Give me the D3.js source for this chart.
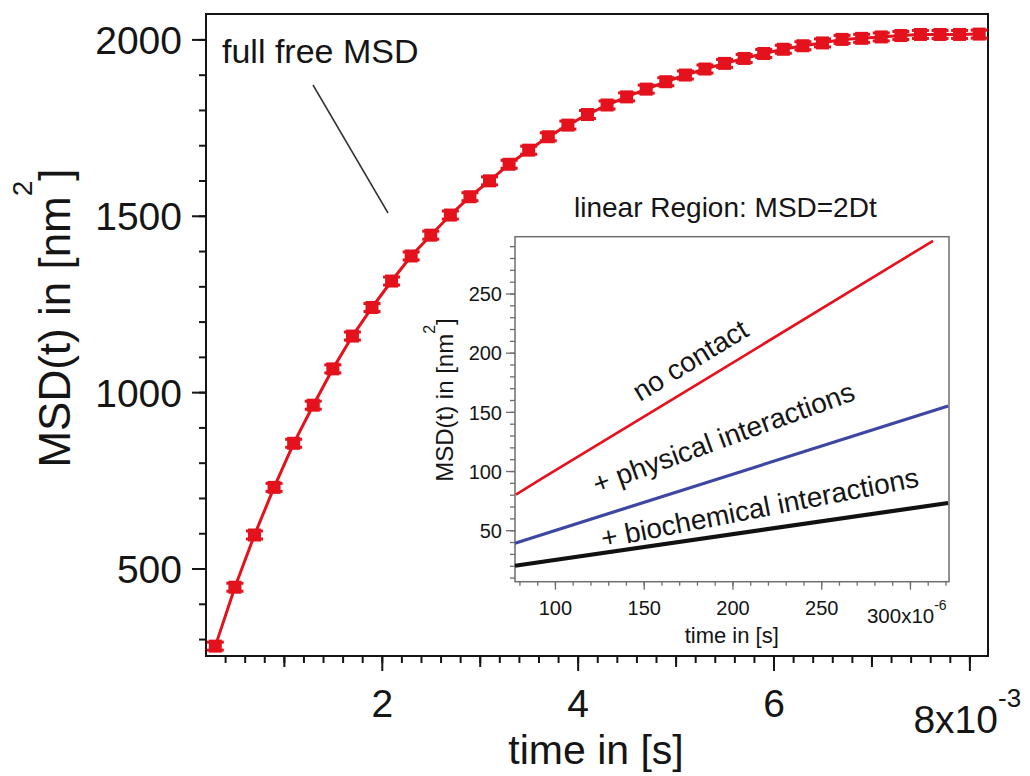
<!DOCTYPE html>
<html>
<head>
<meta charset="utf-8">
<script src="https://cdn.jsdelivr.net/npm/d3@7"></script>
<style>
  body { margin: 0; background: #fff; }
  svg { display: block; }
  text { font-family: "Liberation Sans", Arial, Helvetica, sans-serif; fill: #151515; }
</style>
</head>
<body>
<svg id="chart" width="1030" height="776"></svg>
<script>
// Full free MSD curve: time in ms (x10^-3 s), MSD in nm^2
const freeTime = [0.3, 0.5, 0.7, 0.9, 1.1, 1.3, 1.5, 1.7, 1.9, 2.1,
                  2.3, 2.5, 2.7, 2.9, 3.1, 3.3, 3.5, 3.7, 3.9, 4.1,
                  4.3, 4.5, 4.7, 4.9, 5.1, 5.3, 5.5, 5.7, 5.9, 6.1,
                  6.3, 6.5, 6.7, 6.9, 7.1, 7.3, 7.5, 7.7, 7.9, 8.1];
const freeMSD = [280, 447, 595, 730, 855, 963, 1066, 1159, 1240, 1315,
                 1386, 1445, 1502, 1554, 1599, 1646, 1686, 1724, 1757, 1787,
                 1814, 1837, 1859, 1880, 1899, 1916, 1932, 1946, 1960, 1972,
                 1982, 1990, 2000, 2003, 2007, 2011, 2014, 2014, 2014, 2015];
const mainYTicks = [500, 1000, 1500, 2000];
const mainXTicks = [2, 4, 6];

// Linear region: time in µs (x10^-6 s), MSD in nm^2
const noContactTime = [78, 93, 182, 313];
const noContactMSD  = [80, 94, 175, 294.5];
const physicalTime  = [77.5, 321.5];
const physicalMSD   = [39, 155];
const biochemTime   = [77.5, 321.5];
const biochemMSD    = [20, 73];
const insetYTicks = [50, 100, 150, 200, 250];
const insetXTicks = [100, 150, 200, 250];

const RED = "#e3121d";
const svg = d3.select("#chart");

// ---------- main plot ----------
const x = d3.scaleLinear().domain([0.205, 8.19]).range([206, 988]);
const y = d3.scaleLinear().domain([252, 2072]).range([656, 14]);

function styleAxis(g, width) {
  g.select(".domain").remove();
  g.selectAll(".tick line").attr("stroke", "#151515").attr("stroke-width", width);
}

// y axis: minor every 100, labelled majors every 500
svg.append("g").attr("transform", "translate(206,0)")
  .call(d3.axisLeft(y).tickValues(d3.range(3, 21).map(i => i * 100)).tickSize(7).tickFormat(""))
  .call(g => styleAxis(g, 2));
svg.append("g").attr("transform", "translate(206,0)")
  .call(d3.axisLeft(y).tickValues(mainYTicks).tickSize(14).tickPadding(10).tickFormat(d3.format("d")))
  .call(g => styleAxis(g, 2))
  .call(g => g.selectAll("text").attr("font-size", 39).attr("dy", "0.36em").style("fill", "#151515"));

// x axis: minor every 0.2, medium at odd, major at even
svg.append("g").attr("transform", "translate(0,656)")
  .call(d3.axisBottom(x).tickValues(d3.range(2, 41).map(i => i / 5)).tickSize(7).tickFormat(""))
  .call(g => styleAxis(g, 2));
svg.append("g").attr("transform", "translate(0,656)")
  .call(d3.axisBottom(x).tickValues([1, 3, 5, 7]).tickSize(11).tickFormat(""))
  .call(g => styleAxis(g, 2));
svg.append("g").attr("transform", "translate(0,656)")
  .call(d3.axisBottom(x).tickValues(mainXTicks.concat([8])).tickSize(15).tickPadding(18)
        .tickFormat(d => d === 8 ? "" : d))
  .call(g => styleAxis(g, 2))
  .call(g => g.selectAll("text").attr("font-size", 39).style("fill", "#151515"));

// exponent label at the last tick
const expMain = svg.append("text").attr("x", x(8) - 56).attr("y", 733).attr("font-size", 39);
expMain.append("tspan").text("8x10");
expMain.append("tspan").attr("font-size", 26).attr("dy", -26).text("-3");

// frame
svg.append("rect").attr("x", 206).attr("y", 14).attr("width", 782).attr("height", 642)
  .attr("fill", "none").attr("stroke", "#151515").attr("stroke-width", 2);

// axis titles
const yTitle = svg.append("text").attr("transform", "translate(70,318) rotate(-90)")
  .attr("text-anchor", "middle").attr("font-size", 44);
yTitle.append("tspan").text("MSD(t) in [nm");
yTitle.append("tspan").attr("font-size", 28).attr("dy", -38).text("2");
yTitle.append("tspan").attr("dy", 38).text("]");

svg.append("text").attr("x", 596).attr("y", 764).attr("text-anchor", "middle")
  .attr("font-size", 41).text("time in [s]");

// annotation
svg.append("text").attr("x", 222).attr("y", 63).attr("font-size", 34).text("full free MSD");
svg.append("line").attr("x1", 313).attr("y1", 85).attr("x2", 388).attr("y2", 213)
  .attr("stroke", "#333").attr("stroke-width", 1.5);

// curve + markers
const freeData = freeTime.map((t, i) => ({ t, v: freeMSD[i] }));
svg.append("path").datum(freeData)
  .attr("fill", "none").attr("stroke", RED).attr("stroke-width", 3)
  .attr("d", d3.line().x(d => x(d.t)).y(d => y(d.v)));
const mk = svg.append("g").selectAll("g").data(freeData).join("g")
  .attr("transform", d => `translate(${x(d.t)},${y(d.v)})`);
mk.append("rect").attr("x", -6.5).attr("y", -6.5).attr("width", 13).attr("height", 13).attr("fill", RED);
mk.append("rect").attr("x", -8.5).attr("y", -5.5).attr("width", 17).attr("height", 3).attr("fill", RED);
mk.append("rect").attr("x", -8.5).attr("y", 2.5).attr("width", 17).attr("height", 3).attr("fill", RED);

// ---------- inset: linear region ----------
const ix = d3.scaleLinear().domain([77.5, 322]).range([515, 949]);
const iy = d3.scaleLinear().domain([6.5, 298]).range([581.7, 236.7]);
const GREY = "#6e6e6e";

svg.append("rect").attr("x", 515).attr("y", 236.7).attr("width", 434).attr("height", 345)
  .attr("fill", "#fff");

function styleInset(g) {
  g.select(".domain").remove();
  g.selectAll(".tick line").attr("stroke", GREY).attr("stroke-width", 1.3);
}
svg.append("g").attr("transform", "translate(515,0)")
  .call(d3.axisLeft(iy).tickValues(d3.range(1, 30).map(i => i * 10)).tickSize(5).tickFormat(""))
  .call(styleInset);
svg.append("g").attr("transform", "translate(515,0)")
  .call(d3.axisLeft(iy).tickValues(insetYTicks).tickSize(9).tickPadding(4))
  .call(styleInset)
  .call(g => g.selectAll("text").attr("font-size", 20).attr("dy", "0.36em").style("fill", "#151515"));
svg.append("g").attr("transform", "translate(0,581.7)")
  .call(d3.axisBottom(ix).tickValues(d3.range(8, 33).map(i => i * 10)).tickSize(4).tickFormat(""))
  .call(styleInset);
svg.append("g").attr("transform", "translate(0,581.7)")
  .call(d3.axisBottom(ix).tickValues(insetXTicks.concat([300])).tickSize(8).tickPadding(11)
        .tickFormat(d => d === 300 ? "" : d))
  .call(styleInset)
  .call(g => g.selectAll("text").attr("font-size", 20).style("fill", "#151515"));

const expInset = svg.append("text").attr("x", ix(300) - 43).attr("y", 623).attr("font-size", 20.5);
expInset.append("tspan").text("300x10");
expInset.append("tspan").attr("font-size", 14).attr("dy", -13).text("-6");

svg.append("rect").attr("x", 515).attr("y", 236.7).attr("width", 434).attr("height", 345)
  .attr("fill", "none").attr("stroke", GREY).attr("stroke-width", 1.5);

svg.append("text").attr("x", 731.7).attr("y", 643).attr("text-anchor", "middle")
  .attr("font-size", 22).text("time in [s]");
const iyTitle = svg.append("text").attr("transform", "translate(453,400) rotate(-90)")
  .attr("text-anchor", "middle").attr("font-size", 24);
iyTitle.append("tspan").text("MSD(t) in [nm");
iyTitle.append("tspan").attr("font-size", 16).attr("dy", -18).text("2");
iyTitle.append("tspan").attr("dy", 18).text("]");

svg.append("text").attr("x", 574).attr("y", 217).attr("font-size", 28)
  .text("linear Region: MSD=2Dt");

const iline = d3.line().x(d => ix(d.t)).y(d => iy(d.v));
const series = [
  { t: noContactTime, v: noContactMSD, color: "#e8101c", w: 2.6 },
  { t: physicalTime,  v: physicalMSD,  color: "#3d47a3", w: 3.2 },
  { t: biochemTime,   v: biochemMSD,   color: "#111111", w: 4.2 }
];
series.forEach(s => {
  const pts = s.t.map((t, i) => ({ t, v: s.v[i] }));
  svg.append("path").datum(pts).attr("fill", "none")
    .attr("stroke", s.color).attr("stroke-width", s.w).attr("d", iline);
});

// labels along the lines
function lineAngle(ts, vs) {
  const n = ts.length - 1;
  return Math.atan2(iy(vs[n]) - iy(vs[0]), ix(ts[n]) - ix(ts[0])) * 180 / Math.PI;
}
svg.append("text").attr("font-size", 28)
  .attr("transform", `translate(640,402) rotate(${lineAngle(noContactTime, noContactMSD)})`)
  .text("no contact");
svg.append("text").attr("font-size", 28)
  .attr("transform", "translate(597,494) rotate(-20)")
  .text("+ physical interactions");
svg.append("text").attr("font-size", 28)
  .attr("transform", "translate(603,548) rotate(-11)")
  .text("+ biochemical interactions");
</script>
</body>
</html>
